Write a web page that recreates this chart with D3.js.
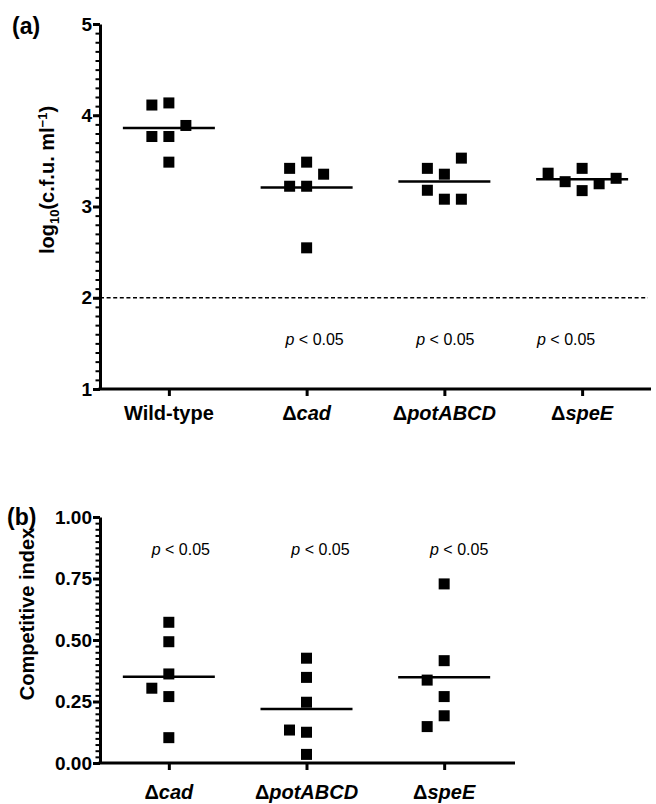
<!DOCTYPE html>
<html><head><meta charset="utf-8">
<script src="https://cdn.jsdelivr.net/npm/d3@7"></script>
<style>
body{margin:0;background:#fff}
text{font-family:"Liberation Sans",Arial,Helvetica,sans-serif}
</style></head>
<body><svg id="c" width="656" height="804"></svg>
<script>
// ---------- data ----------
const categoriesA = ["Wild-type", "Δcad", "ΔpotABCD", "ΔspeE"];
const wildTypeA = [3.486, 3.767, 3.767, 3.888, 4.135, 4.112];
const cadA      = [2.547, 3.222, 3.222, 3.354, 3.486, 3.418];
const potA      = [3.354, 3.418, 3.530, 3.178, 3.080, 3.080];
const speEA     = [3.418, 3.174, 3.272, 3.249, 3.365, 3.309];
const detectionLimitA = 2;
const yTicksA = [1, 2, 3, 4, 5];
const pLabelsA = ["", "< 0.05", "< 0.05", "< 0.05"];

const categoriesB = ["Δcad", "ΔpotABCD", "ΔspeE"];
const cadB  = [0.572, 0.493, 0.362, 0.304, 0.270, 0.103];
const potB  = [0.426, 0.348, 0.247, 0.125, 0.134, 0.035];
const speEB = [0.728, 0.416, 0.270, 0.337, 0.192, 0.148];
const yTicksB = [0, 0.25, 0.5, 0.75, 1.0];
const pLabelsB = ["< 0.05", "< 0.05", "< 0.05"];

const seriesA = [wildTypeA, cadA, potA, speEA];
const seriesB = [cadB, potB, speEB];

// ---------- layout ----------
const svg = d3.select("#c");
const AX_W = 3, SQ = 11, SLOT = 17, HIT = 17.4, HALF = 46;

const xA = d3.scalePoint().domain(categoriesA).range([100, 651]).padding(0.5);
const yA = d3.scaleLinear().domain([1, 5]).range([389, 24]);
const xB = d3.scalePoint().domain(categoriesB).range([100, 513]).padding(0.5);
const yB = d3.scaleLinear().domain([0, 1]).range([763, 517]);

function swarm(values, yScale) {
  const placed = [];
  const cand = [0, -1, 1, -2, 2, -3, 3];
  return values.map(v => {
    const y = yScale(v);
    for (const k of cand) {
      if (!placed.some(p => p.k === k && Math.abs(p.y - y) < HIT)) {
        placed.push({k, y});
        return {v, k};
      }
    }
  });
}

function drawPanel(g, x, y, yTicks, minorStep, fmt, xRight) {
  const [y0, y1] = y.domain();
  const minor = d3.range(y0, y1 + minorStep / 2, minorStep);
  g.append("g").attr("transform", `translate(${x.range()[0]},0)`)
    .call(d3.axisLeft(y).tickValues(minor).tickSize(4.5).tickSizeOuter(0).tickFormat(""))
    .call(s => { s.select(".domain").remove(); s.selectAll("line").attr("stroke", "#000").attr("stroke-width", 2); });
  g.append("g").attr("transform", `translate(${x.range()[0]},0)`)
    .call(d3.axisLeft(y).tickValues(yTicks).tickSize(7).tickSizeOuter(0).tickPadding(1).tickFormat(fmt))
    .call(s => {
      s.select(".domain").attr("stroke", "#000").attr("stroke-width", AX_W);
      s.selectAll("line").attr("stroke", "#000").attr("stroke-width", AX_W);
      s.selectAll("text").attr("fill", "#000").style("font-size", "19px").style("font-weight", "bold");
    });
  const xa = g.append("g").attr("transform", `translate(0,${y.range()[0]})`)
    .call(d3.axisBottom(x).tickSize(7).tickSizeOuter(0).tickFormat(""));
  xa.select(".domain").attr("stroke", "#000").attr("stroke-width", AX_W)
    .attr("d", `M${x.range()[0] - 1.5},0H${xRight}`);
  xa.selectAll("line").attr("stroke", "#000").attr("stroke-width", AX_W);
}

function catLabels(g, cats, x, yBase) {
  cats.forEach(c => {
    const t = g.append("text").attr("x", x(c)).attr("y", yBase)
      .attr("text-anchor", "middle").style("font-size", "20px").style("font-weight", "bold");
    if (c.startsWith("Δ")) {
      t.append("tspan").text("Δ");
      t.append("tspan").style("font-style", "italic").text(c.slice(1));
    } else t.text(c);
  });
}

function pText(g, xc, yBase, label) {
  if (!label) return;
  const t = g.append("text").attr("x", xc).attr("y", yBase).attr("text-anchor", "middle")
    .style("font-size", "16px");
  t.append("tspan").style("font-style", "italic").text("p");
  t.append("tspan").text(" " + label);
}

function drawPoints(g, cats, series, x, y) {
  cats.forEach((c, i) => {
    const pts = swarm(series[i], y);
    g.append("g").selectAll("rect").data(pts).join("rect")
      .attr("x", d => x(c) + d.k * SLOT - SQ / 2)
      .attr("y", d => y(d.v) - SQ / 2)
      .attr("width", SQ).attr("height", SQ).attr("fill", "#000");
    const m = d3.mean(series[i]);
    g.append("line").attr("x1", x(c) - HALF).attr("x2", x(c) + HALF)
      .attr("y1", y(m)).attr("y2", y(m)).attr("stroke", "#000").attr("stroke-width", 2.5);
  });
}

// ---------- panel (a) ----------
const gA = svg.append("g");
gA.append("line").attr("x1", 100).attr("x2", 648)
  .attr("y1", yA(detectionLimitA)).attr("y2", yA(detectionLimitA))
  .attr("stroke", "#000").attr("stroke-width", 1.5).attr("stroke-dasharray", "4,2.6");
drawPanel(gA, xA, yA, yTicksA, 0.1, d3.format("d"), 651);
drawPoints(gA, categoriesA, seriesA, xA, yA);
catLabels(gA, categoriesA, xA, 420);
const pOffA = [0, 8, 1, -16];
categoriesA.forEach((c, i) => pText(gA, xA(c) + pOffA[i], 345, pLabelsA[i]));
gA.append("text").attr("x", 12).attr("y", 34).style("font-size", "23px").style("font-weight", "bold").text("(a)");
const tA = gA.append("text").attr("transform", "translate(54,180) rotate(-90)")
  .attr("text-anchor", "middle").style("font-size", "20px").style("font-weight", "bold");
tA.append("tspan").text("log");
tA.append("tspan").attr("dy", 5).style("font-size", "13px").text("10");
tA.append("tspan").attr("dy", -5).text("(c.f.u. ml");
tA.append("tspan").attr("dy", -7).style("font-size", "13px").text("−1");
tA.append("tspan").attr("dy", 7).text(")");

// ---------- panel (b) ----------
const gB = svg.append("g");
drawPanel(gB, xB, yB, yTicksB, 0.025, d3.format(".2f"), 515);
drawPoints(gB, categoriesB, seriesB, xB, yB);
catLabels(gB, categoriesB, xB, 799);
const pOffB = [12, 14, 15];
categoriesB.forEach((c, i) => pText(gB, xB(c) + pOffB[i], 555, pLabelsB[i]));
gB.append("text").attr("x", 7).attr("y", 525).style("font-size", "23px").style("font-weight", "bold").text("(b)");
gB.append("text").attr("transform", "translate(34,614) rotate(-90)")
  .attr("text-anchor", "middle").style("font-size", "20px").style("font-weight", "bold")
  .text("Competitive index");
</script></body></html>
